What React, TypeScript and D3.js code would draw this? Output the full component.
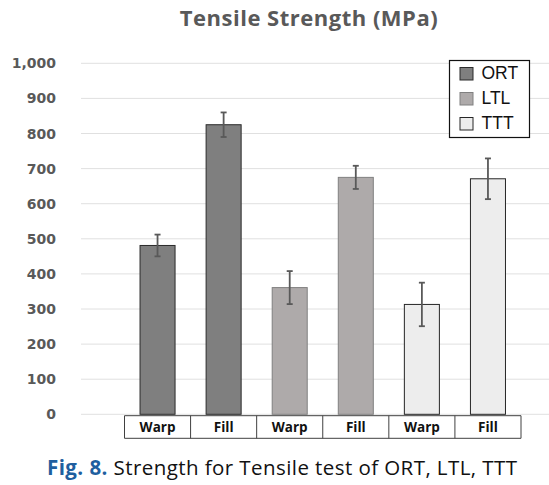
import React from "react";
import * as d3 from "d3";

const categories = ["Warp", "Fill", "Warp", "Fill", "Warp", "Fill"];
const groups = ["ORT", "ORT", "LTL", "LTL", "TTT", "TTT"];
const values = [481, 825, 361, 675, 313, 671];
const errors = [31, 35, 47, 33, 62, 58];
const seriesNames = ["ORT", "LTL", "TTT"];
const seriesFill = ["#7f7f7f", "#aeaaaa", "#ededed"];
const seriesStroke = ["#2b2b2b", "#808080", "#262626"];
const yTicks = [0, 100, 200, 300, 400, 500, 600, 700, 800, 900, 1000];
const title = "Tensile Strength (MPa)";
const captionBold = "Fig. 8.";
const captionRest = " Strength for Tensile test of ORT, LTL, TTT";

const W = 549;
const H = 485;

export default function App() {
  const y = d3.scaleLinear().domain([0, 1000]).range([414.3, 63.3]);
  const idx = categories.map((_, i) => i);
  const xBand = d3
    .scaleBand<number>()
    .domain(idx)
    .range([124.5, 521])
    .paddingInner(0.47)
    .paddingOuter(0.235);
  const xBox = d3.scaleBand<number>().domain(idx).range([124.5, 521]);
  const fmt = d3.format(",");
  const color = d3.scaleOrdinal<string, string>().domain(seriesNames).range(seriesFill);
  const stroke = d3.scaleOrdinal<string, string>().domain(seriesNames).range(seriesStroke);

  const gridX0 = 81;
  const gridX1 = 549;
  const boxX1 = xBox(5)! + xBox.bandwidth();

  return (
    <svg
      width={W}
      height={H}
      style={{ position: "absolute", left: 0, top: 0, background: "#fff" }}
    >
      <rect x={0} y={0} width={W} height={H} fill="#fff" />
      <text
        x={309}
        y={26}
        textAnchor="middle"
        fontFamily="'Open Sans', sans-serif"
        fontWeight="bold"
        fontSize={22}
        letterSpacing={0.5}
        fill="#595959"
      >
        {title}
      </text>

      {yTicks.map((t) => (
        <g key={t}>
          <line
            x1={gridX0}
            x2={gridX1}
            y1={y(t)}
            y2={y(t)}
            stroke="#e0e0e0"
            strokeWidth={1}
          />
          <text
            x={56}
            y={y(t)}
            dy="0.36em"
            textAnchor="end"
            fontFamily="'DejaVu Sans', Verdana, sans-serif"
            fontWeight="bold"
            fontSize={14}
            fill="#595959"
          >
            {fmt(t)}
          </text>
        </g>
      ))}

      {idx.map((i) => {
        const x0 = xBand(i)!;
        const bw = xBand.bandwidth();
        const cx = x0 + bw / 2;
        const v = values[i];
        const e = errors[i];
        return (
          <g key={i}>
            <rect
              x={x0}
              y={y(v)}
              width={bw}
              height={y(0) - y(v)}
              fill={color(groups[i])}
              stroke={stroke(groups[i])}
              strokeWidth={1}
            />
            <line x1={cx} x2={cx} y1={y(v + e)} y2={y(v - e)} stroke="#595959" strokeWidth={1.8} />
            <line x1={cx - 3} x2={cx + 3} y1={y(v + e)} y2={y(v + e)} stroke="#595959" strokeWidth={1.8} />
            <line x1={cx - 3} x2={cx + 3} y1={y(v - e)} y2={y(v - e)} stroke="#595959" strokeWidth={1.8} />
          </g>
        );
      })}

      {/* category table */}
      <g>
        <line x1={xBox(0)!} x2={boxX1} y1={415.7} y2={415.7} stroke="#404040" strokeWidth={1} />
        <line x1={xBox(0)!} x2={boxX1} y1={438.3} y2={438.3} stroke="#404040" strokeWidth={1} />
        {idx.map((i) => (
          <line key={"v" + i} x1={xBox(i)!} x2={xBox(i)!} y1={415.7} y2={438.3} stroke="#404040" strokeWidth={1} />
        ))}
        <line x1={boxX1} x2={boxX1} y1={415.7} y2={438.3} stroke="#404040" strokeWidth={1} />
        {idx.map((i) => (
          <text
            key={"t" + i}
            x={xBox(i)! + xBox.bandwidth() / 2}
            y={432.3}
            textAnchor="middle"
            fontFamily="'Open Sans', sans-serif"
            fontWeight="bold"
            fontSize={13.5}
            fill="#111"
          >
            {categories[i]}
          </text>
        ))}
      </g>

      {/* legend */}
      <g>
        <rect x={449.5} y={60.5} width={80} height={77} fill="#fff" stroke="#111" strokeWidth={1.2} />
        {seriesNames.map((s, i) => (
          <g key={s} transform={`translate(0, ${i * 25})`}>
            <rect x={460} y={67.5} width={13} height={12.5} fill={color(s)} stroke={stroke(s)} strokeWidth={1} />
            <text
              x={481.5}
              y={79.3}
              fontFamily="'Liberation Sans', Arial, sans-serif"
              fontSize={17.5}
              fill="#111"
            >
              {s}
            </text>
          </g>
        ))}
      </g>

      {/* caption */}
      <text
        x={47}
        y={475}
        fontFamily="'Open Sans', sans-serif"
        fontSize={20.5}
        textLength={470}
        lengthAdjust="spacing"
        fill="#111"
      >
        <tspan fontWeight="bold" fill="#1f5f9f">
          {captionBold}
        </tspan>
        <tspan>{captionRest}</tspan>
      </text>
    </svg>
  );
}
